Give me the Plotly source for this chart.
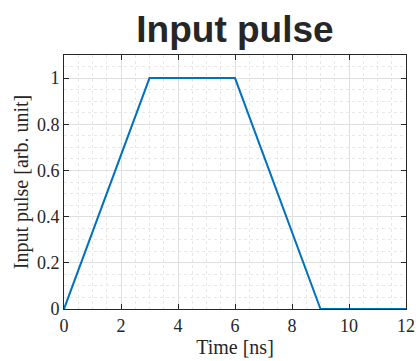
import plotly.graph_objects as go

time_ns = [0, 3, 6, 9, 12]
pulse = [0, 1, 1, 0, 0]
x_ticks = [0, 2, 4, 6, 8, 10, 12]
y_ticks = [0, 0.2, 0.4, 0.6, 0.8, 1]
y_tick_labels = ["0", "0.2", "0.4", "0.6", "0.8", "1"]

fig = go.Figure()
fig.add_trace(go.Scatter(x=time_ns, y=pulse, mode="lines",
                         line=dict(color="#0072BD", width=2)))

serif = "Liberation Serif"
tick_font = dict(family=serif, size=18, color="#262626")
label_font = dict(family=serif, size=20, color="#262626")

fig.update_layout(
    width=418, height=361,
    margin=dict(l=64, r=12, t=55, b=52, autoexpand=False),
    paper_bgcolor="white", plot_bgcolor="white",
    showlegend=False,
    title=dict(text="<b>Input pulse</b>", x=(64 + 406) / 2 / 418, xanchor="center",
               y=1 - 29 / 361, yanchor="middle",
               font=dict(family="Liberation Sans", size=37, color="#262626")),
    font=tick_font,
)
fig.update_xaxes(
    range=[0, 12], tickvals=x_ticks, ticktext=[str(v) for v in x_ticks],
    showline=True, linecolor="#262626", linewidth=1, mirror="ticks",
    ticks="inside", ticklen=5, tickcolor="#262626",
    showgrid=True, gridcolor="#dfdfdf", gridwidth=1,
    minor=dict(dtick=0.5, showgrid=True, griddash="dot", gridcolor="#e8e8e8", ticks=""),
    zeroline=False, automargin=False,
    title=dict(text="Time [ns]", font=label_font, standoff=2),
    tickfont=tick_font,
)
fig.update_yaxes(
    range=[0, 1.1], tickvals=y_ticks, ticktext=y_tick_labels,
    showline=True, linecolor="#262626", linewidth=1, mirror="ticks",
    ticks="inside", ticklen=5, tickcolor="#262626",
    showgrid=True, gridcolor="#dfdfdf", gridwidth=1,
    minor=dict(dtick=0.05, showgrid=True, griddash="dot", gridcolor="#e8e8e8", ticks=""),
    zeroline=False, automargin=False,
    title=dict(text="Input pulse [arb. unit]", font=label_font, standoff=2),
    tickfont=tick_font,
)
fig.write_html("out.html")
